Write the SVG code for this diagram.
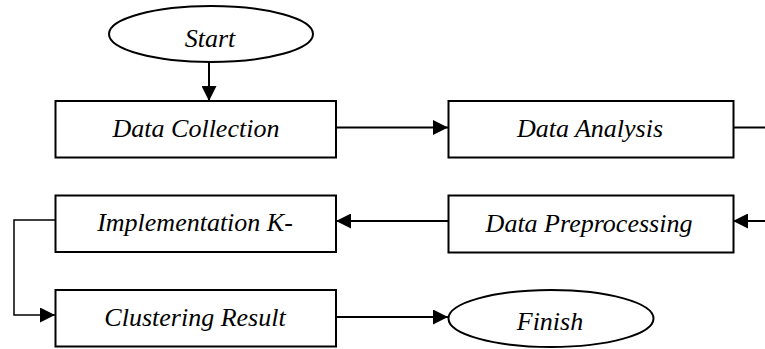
<svg xmlns="http://www.w3.org/2000/svg" width="765" height="349" viewBox="0 0 765 349">
  <style>
    .box { fill: #fff; stroke: #000; stroke-width: 2; }
    .term { fill: #fff; stroke: #000; stroke-width: 2; }
    .lbl { font-family: 'Liberation Serif', serif; font-style: italic; font-size: 26px; fill: #000; text-anchor: middle; }
    .wire { fill: none; stroke: #000; stroke-width: 2; }
    .thin { stroke-width: 1.5; }
  </style>
  <defs>
    <marker id="arrow" viewBox="0 0 15 15" refX="15" refY="7.5" markerWidth="15" markerHeight="15" markerUnits="userSpaceOnUse" orient="auto">
      <path d="M0,0 L15,7.5 L0,15 z" fill="#000"/>
    </marker>
  </defs>

  <g id="connectors">
    <line class="wire" x1="209" y1="62" x2="209" y2="101" marker-end="url(#arrow)"/>
    <line class="wire" x1="336" y1="127.5" x2="448" y2="127.5" marker-end="url(#arrow)"/>
    <line class="wire" x1="733" y1="127.5" x2="765" y2="127.5"/>
    <line class="wire" x1="765" y1="221" x2="733" y2="221" marker-end="url(#arrow)"/>
    <line class="wire" x1="448" y1="221" x2="336" y2="221" marker-end="url(#arrow)"/>
    <path class="wire thin" d="M55,220 H14 V315 H55" marker-end="url(#arrow)"/>
    <line class="wire" x1="336" y1="317" x2="448" y2="317" marker-end="url(#arrow)"/>
  </g>

  <g id="start">
    <ellipse class="term" cx="211" cy="34" rx="102" ry="28"/>
    <text class="lbl" x="210" y="46.5">Start</text>
  </g>
  <g id="data-collection">
    <rect class="box" x="55.5" y="101" width="280.5" height="56.5"/>
    <text class="lbl" x="196" y="136.5">Data Collection</text>
  </g>
  <g id="data-analysis">
    <rect class="box" x="448.5" y="101" width="285" height="56.5"/>
    <text class="lbl" x="590" y="136.5">Data Analysis</text>
  </g>
  <g id="data-preprocessing">
    <rect class="box" x="448.5" y="195.5" width="285" height="57"/>
    <text class="lbl" x="589" y="231.5">Data Preprocessing</text>
  </g>
  <g id="implementation">
    <rect class="box" x="55.5" y="195.5" width="280.5" height="56.5"/>
    <text class="lbl" x="195" y="230.5">Implementation K-</text>
  </g>
  <g id="clustering-result">
    <rect class="box" x="55.5" y="290" width="280.5" height="56.5"/>
    <text class="lbl" x="195" y="325.5">Clustering Result</text>
  </g>
  <g id="finish">
    <ellipse class="term" cx="551" cy="318.5" rx="102.5" ry="28.5"/>
    <text class="lbl" x="550" y="330">Finish</text>
  </g>
</svg>
